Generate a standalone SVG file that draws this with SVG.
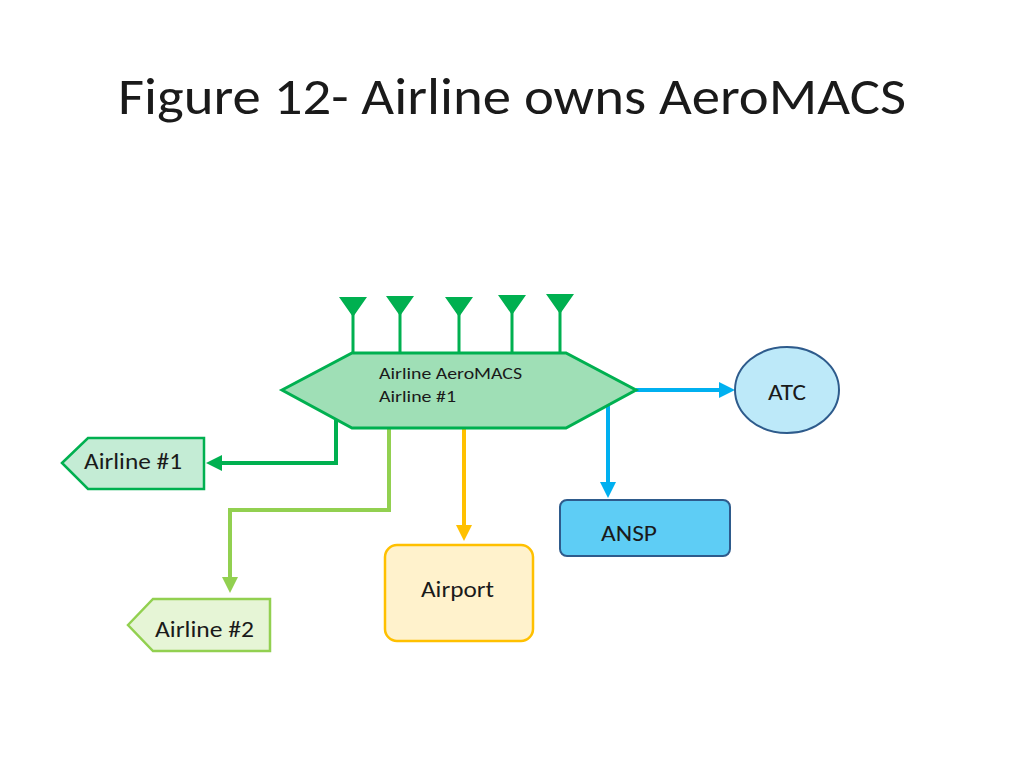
<svg xmlns="http://www.w3.org/2000/svg" width="1024" height="768" viewBox="0 0 1024 768">
<style>
text{font-family:Carlito,Lato,"Liberation Sans",sans-serif;fill:#1a1a1a}
.t{font-size:22px}
.ant{stroke:#00b050;stroke-width:3;fill:none}
.antf{fill:#00b050}
</style>
<defs>
<marker id="mg" markerWidth="4" markerHeight="4" refX="2" refY="2" orient="auto" markerUnits="strokeWidth"><path d="M0,0L4,2L0,4z" fill="#00b050"/></marker>
<marker id="ml" markerWidth="4" markerHeight="4" refX="2" refY="2" orient="auto" markerUnits="strokeWidth"><path d="M0,0L4,2L0,4z" fill="#92d050"/></marker>
<marker id="my" markerWidth="4" markerHeight="4" refX="2" refY="2" orient="auto" markerUnits="strokeWidth"><path d="M0,0L4,2L0,4z" fill="#ffc000"/></marker>
<marker id="mb" markerWidth="4" markerHeight="4" refX="2" refY="2" orient="auto" markerUnits="strokeWidth"><path d="M0,0L4,2L0,4z" fill="#00b0f0"/></marker>
</defs>
<rect width="1024" height="768" fill="#fff"/>
<text x="118" y="114" textLength="788" lengthAdjust="spacingAndGlyphs" style="font-size:52px">Figure 12- Airline owns AeroMACS</text>
<g id="antennas">
<path class="ant" d="M353,353V310M400,353V310M459,353V310M512,353V308M560,353V306"/>
<path class="antf" d="M339,297h28l-14,20zM386,296h28l-14,20zM445,297h28l-14,20zM498,295h28l-14,20zM546,294h28l-14,20z"/>
</g>
<g id="connectors" fill="none" stroke-width="4">
<path d="M336,418V463H214" stroke="#00b050" marker-end="url(#mg)"/>
<path d="M389,428V510H230V585" stroke="#92d050" marker-end="url(#ml)"/>
<path d="M464,428V533" stroke="#ffc000" marker-end="url(#my)"/>
<path d="M636,390H727" stroke="#00b0f0" marker-end="url(#mb)"/>
<path d="M608,405V490" stroke="#00b0f0" marker-end="url(#mb)"/>
</g>
<g id="aeromacs">
<polygon points="282,390 352,353 566,353 636,390 566,428 352,428" fill="#9fdfb6" stroke="#00b050" stroke-width="3"/>
<text x="379" y="379" textLength="143" lengthAdjust="spacingAndGlyphs" style="font-size:17px">Airline AeroMACS</text>
<text x="379" y="402" textLength="77" lengthAdjust="spacingAndGlyphs" style="font-size:17px">Airline #1</text>
</g>
<g id="atc"><ellipse cx="787" cy="390" rx="52" ry="43" fill="#bde9f9" stroke="#2e5b8c" stroke-width="2"/><text class="t" x="768" y="400" textLength="38" lengthAdjust="spacingAndGlyphs">ATC</text></g>
<g id="ansp"><rect x="560" y="500" width="170" height="56" rx="7" fill="#5ecdf5" stroke="#2e5b8c" stroke-width="2"/><text class="t" x="601" y="541" textLength="56" lengthAdjust="spacingAndGlyphs">ANSP</text></g>
<g id="airport"><rect x="385" y="545" width="148" height="96" rx="12" fill="#fff2cc" stroke="#ffc000" stroke-width="2.5"/><text class="t" x="421" y="597" textLength="73" lengthAdjust="spacingAndGlyphs">Airport</text></g>
<g id="airline1"><polygon points="62,463 88,438 204,438 204,489 88,489" fill="#c4ecd5" stroke="#00b050" stroke-width="2.5"/><text class="t" x="84" y="469" textLength="98" lengthAdjust="spacingAndGlyphs">Airline #1</text></g>
<g id="airline2"><polygon points="128,625 153,599 270,599 270,651 153,651" fill="#e6f5d6" stroke="#92d050" stroke-width="2.5"/><text class="t" x="155" y="637" textLength="99" lengthAdjust="spacingAndGlyphs">Airline #2</text></g>
</svg>
